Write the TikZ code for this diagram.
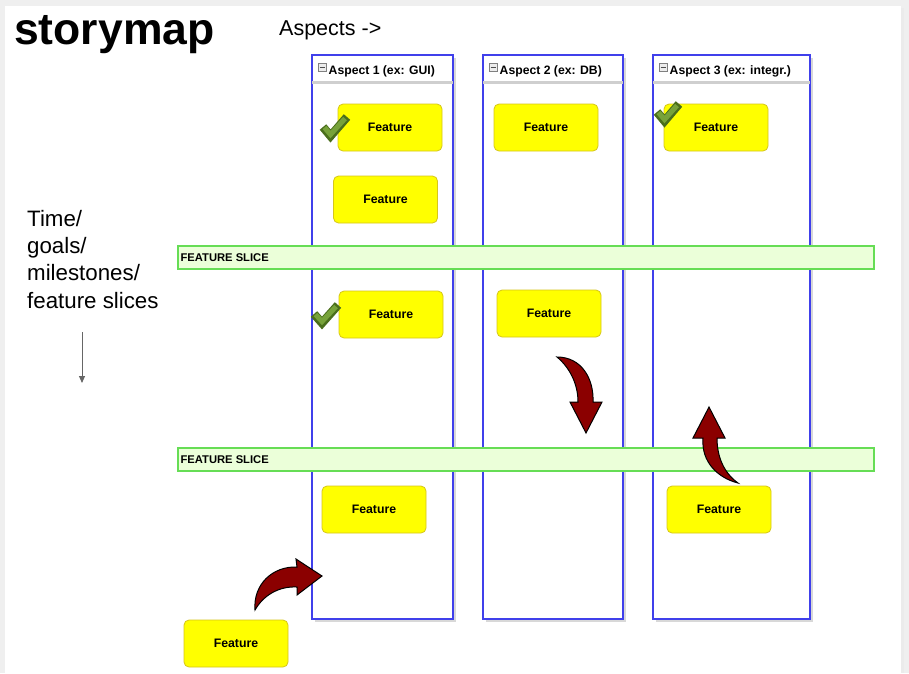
\documentclass[tikz,border=0pt]{standalone}
\usepackage{fontspec}
\setmainfont{Liberation Sans}
\usetikzlibrary{arrows.meta,shadows,calc}
\definecolor{bgray}{HTML}{EFEFEF}
\definecolor{colblue}{RGB}{64,64,235}
\definecolor{featfill}{HTML}{FFFF00}
\definecolor{featdraw}{HTML}{D6C61A}
\definecolor{slicefill}{HTML}{EBFFD9}
\definecolor{slicedraw}{HTML}{66DD55}
\definecolor{arrred}{HTML}{8B0000}
\definecolor{checkdark}{HTML}{4A6E1C}
\definecolor{checklight}{HTML}{77A23A}
\definecolor{hdrline}{HTML}{CFCFCF}
\tikzset{
  feature/.style={draw=featdraw, fill=featfill, rounded corners=5pt, minimum width=104pt,
    minimum height=47pt, inner sep=0pt, line width=0.8pt, font=\fontsize{12.3}{14}\selectfont\bfseries},
  slicebox/.style={draw=slicedraw, fill=slicefill, line width=1.2pt, minimum width=696pt,
    minimum height=23pt, inner sep=0pt},
  slicelabel/.style={anchor=west, inner sep=0pt, font=\fontsize{11.2}{13}\selectfont\bfseries},
  column/.style={draw=colblue, fill=white, line width=2pt, minimum height=564pt, inner sep=0pt,
    drop shadow={shadow xshift=3pt, shadow yshift=-3pt, fill=black!25, opacity=0.6}},
  header/.style={anchor=west, inner sep=0pt, font=\fontsize{12.2}{14}\selectfont\bfseries},
  minusicon/.style={draw=gray, fill=gray!15, line width=0.6pt},
  checkouter/.style={checkdark, line width=8.5pt, line join=miter, line cap=butt},
  checkinner/.style={checklight, line width=5pt, line join=miter, line cap=butt},
  fatarrow/.style={fill=arrred, draw=black, line width=1pt, line join=miter},
  bigtext/.style={inner sep=0pt, font=\fontsize{22.3}{27.3}\selectfont},
}
\begin{document}
\begin{tikzpicture}[x=1pt,y=-1pt]
\useasboundingbox (0,0) rectangle (909,673);
\fill[bgray] (0,0) rectangle (909,673);
\fill[black!8] (7,8) rectangle (904,673);
\fill[white] (5,6) rectangle (901,673);

% title texts
\node[anchor=base west, inner sep=0pt, font=\fontsize{44.5}{50}\selectfont\bfseries] (title) at (14,44) {storymap};
\node[anchor=base west, inner sep=0pt, font=\fontsize{21.5}{25}\selectfont] (aspects) at (279,35) {Aspects ->};
\node[bigtext, anchor=north west, align=left] (timeline) at (27,210) {Time/\\goals/\\milestones/\\feature slices};
\coordinate (tstart) at (82,332);
\coordinate (tend) at (82,383);
\draw[black!60, line width=1pt, -{Triangle[width=6pt,length=7pt]}] (tstart) -- (tend);

% columns
\node[column, minimum width=141pt] (col1) at (382.5,337) {};
\node[column, minimum width=140pt] (col2) at (553,337) {};
\node[column, minimum width=157pt] (col3) at (731.5,337) {};
\foreach \c in {col1,col2,col3}{
  \draw[hdrline, line width=3pt] ($(\c.north west)+(1,28.5)$) -- ($(\c.north east)+(-1,28.5)$);
}
\draw[minusicon] (318,63) rectangle (326,71); \draw[black!70, line width=0.7pt] (319.5,67) -- (324.5,67);
\draw[minusicon] (489,63) rectangle (497,71); \draw[black!70, line width=0.7pt] (490.5,67) -- (495.5,67);
\draw[minusicon] (659,63) rectangle (667,71); \draw[black!70, line width=0.7pt] (660.5,67) -- (665.5,67);
\node[header] (h1) at (328.5,71.5) {Aspect 1 (ex: GUI)};
\node[header] (h2) at (499.5,71.5) {Aspect 2 (ex: DB)};
\node[header] (h3) at (669.5,71.5) {Aspect 3 (ex: integr.)};

% slices
\node[slicebox] (slice1) at (526,257.5) {};
\node[slicelabel] (slice1l) at ($(slice1.west)+(3,0)$) {FEATURE SLICE};
\node[slicebox] (slice2) at (526,459.5) {};
\node[slicelabel] (slice2l) at ($(slice2.west)+(3,0)$) {FEATURE SLICE};

% features
\node[feature] (f1a) at (390,127.5) {Feature};
\node[feature] (f1b) at (385.5,199.5) {Feature};
\node[feature] (f2a) at (546,127.5) {Feature};
\node[feature] (f3a) at (716,127.5) {Feature};
\node[feature] (f1c) at (391,314.5) {Feature};
\node[feature] (f2b) at (549,313.5) {Feature};
\node[feature] (f1d) at (374,509.5) {Feature};
\node[feature] (f3b) at (719,509.5) {Feature};
\node[feature] (f0) at (236,643.5) {Feature};

% check marks
\draw[checkouter] (323,127) -- (330.5,136) -- (347,117);
\draw[checkinner] (324.5,127.5) -- (330.5,134.5) -- (345,118.5);
\draw[checkouter] (657,112) -- (664.5,121) -- (679,104);
\draw[checkinner] (658.5,112.5) -- (664.5,119.5) -- (677,105.5);
\draw[checkouter] (314,314) -- (322,323) -- (338,305);
\draw[checkinner] (315.5,314.5) -- (322,321.5) -- (336,306.5);

% fat arrows
\draw[fatarrow] (557,357) .. controls (581,357) and (594,378) .. (593,402) -- (602,402) -- (586,433)
  -- (570,402) -- (578,402) .. controls (578,383) and (569,367) .. (557,357) -- cycle;
\draw[fatarrow] (738,483) .. controls (724,473) and (717,457) .. (717,438) -- (725,438) -- (709,407)
  -- (693,438) -- (703,438) .. controls (701,462) and (718,478) .. (738,483) -- cycle;
\draw[fatarrow] (255,610) .. controls (253,584) and (273,566) .. (297,567) -- (296,559) -- (322,576)
  -- (297,595) -- (297,587) .. controls (278,586) and (263,596) .. (255,610) -- cycle;
\end{tikzpicture}
\end{document}
